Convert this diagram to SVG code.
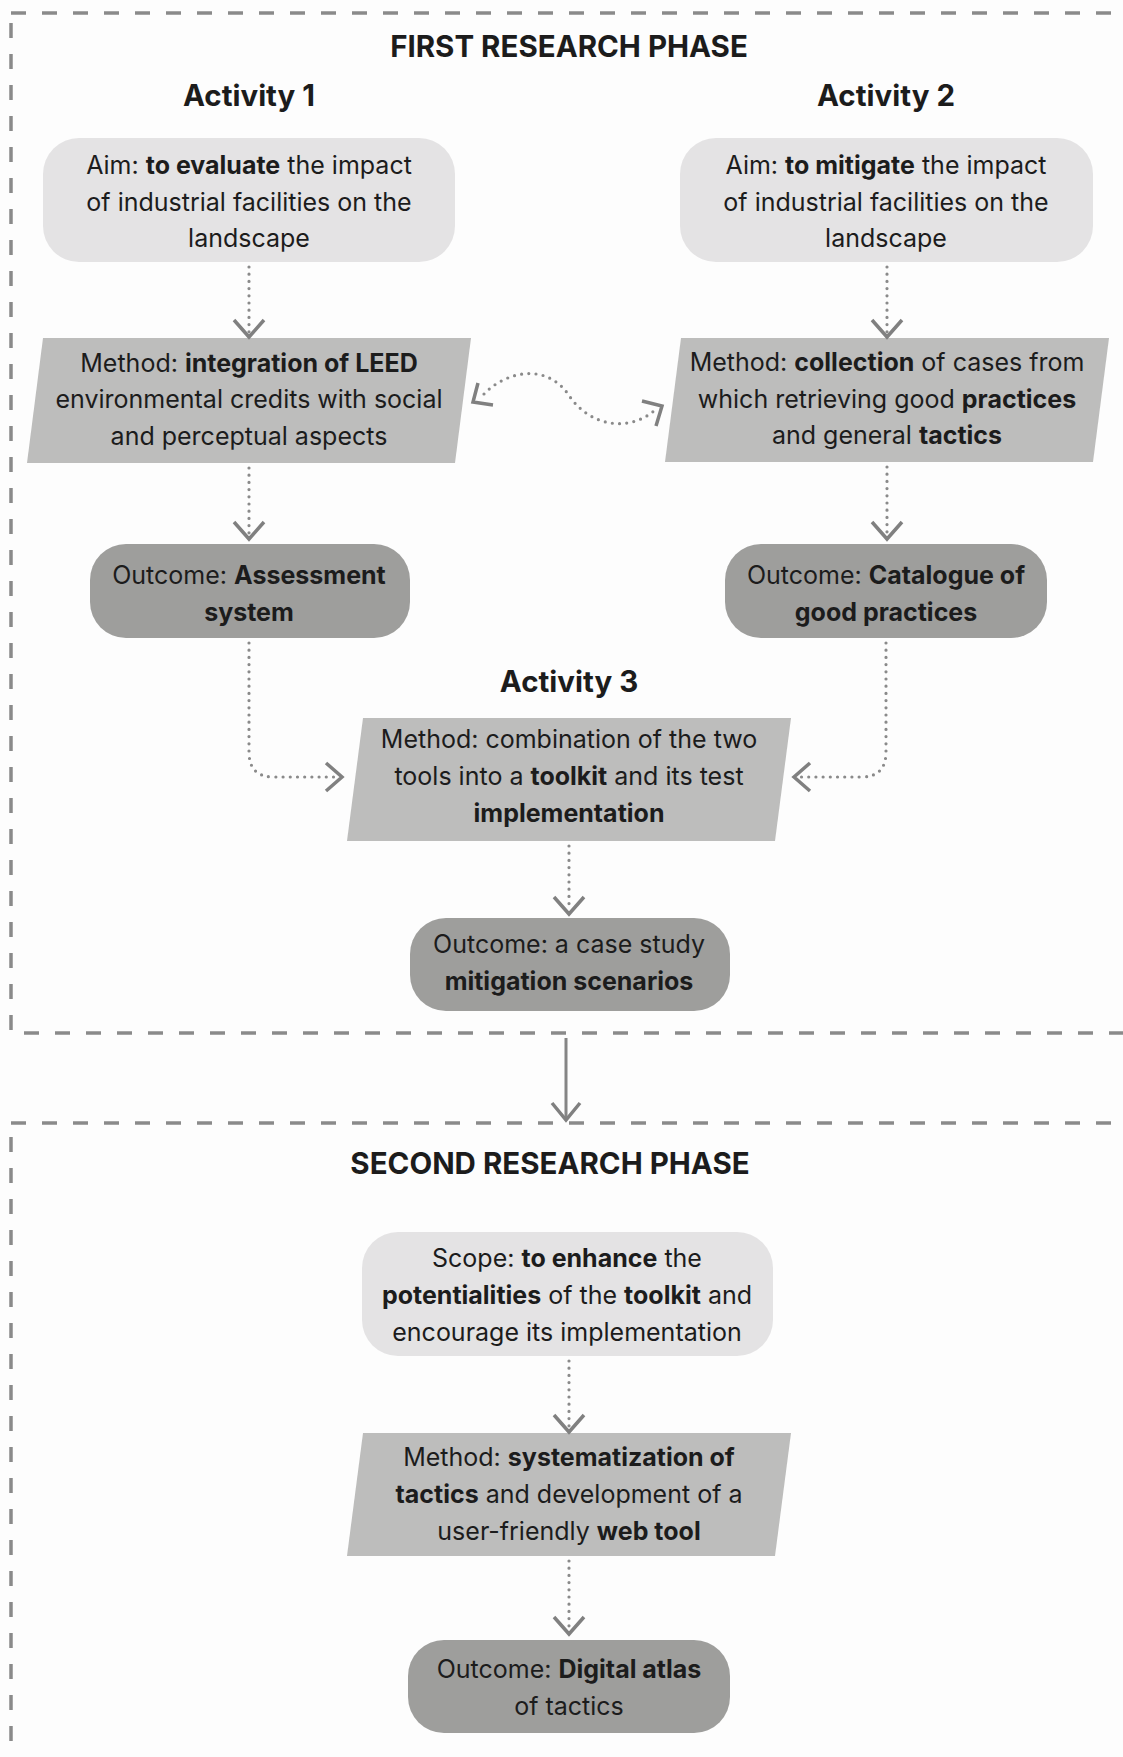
<svg xmlns="http://www.w3.org/2000/svg" width="1123" height="1757" viewBox="0 0 1123 1757">
<style>
  .bg{fill:#fdfdfd}
  .frame{fill:none;stroke:#8a8a8a;stroke-width:3.5;stroke-dasharray:15 16}
  .aim{fill:#e4e3e4}
  .meth{fill:#bdbdbc}
  .out{fill:#9e9e9c}
  text{font-family:Inter,"Noto Sans","DejaVu Sans",sans-serif;fill:#1c1c1c;text-anchor:middle}
  .t{font-size:25px}
  .h{font-size:29.5px;font-weight:700}
  .b{font-weight:700}
  .dot{fill:none;stroke:#8a8a8a;stroke-width:3.2;stroke-linecap:round;stroke-dasharray:0 7.2}
  .chev{fill:none;stroke:#808080;stroke-width:3.5;stroke-linejoin:miter}
  .solid{fill:none;stroke:#858585;stroke-width:3}
</style>
<rect class="bg" x="0" y="0" width="1123" height="1757"/>
<g id="frames">
  <rect class="frame" x="11" y="13" width="1116" height="1020"/>
  <rect class="frame" x="11" y="1123" width="1116" height="650"/>
</g>
<g id="titles">
  <text class="h" x="569" y="57">FIRST RESEARCH PHASE</text>
  <text class="h" x="249" y="106">Activity 1</text>
  <text class="h" x="886" y="106">Activity 2</text>
  <text class="h" x="569" y="692">Activity 3</text>
  <text class="h" x="550" y="1174">SECOND RESEARCH PHASE</text>
</g>
<g id="aim1">
  <rect class="aim" x="43" y="138" width="412" height="124" rx="36"/>
  <text class="t" x="249" y="174">Aim: <tspan class="b">to evaluate</tspan> the impact</text>
  <text class="t" x="249" y="211">of industrial facilities on the</text>
  <text class="t" x="249" y="247">landscape</text>
</g>
<g id="aim2">
  <rect class="aim" x="680" y="138" width="413" height="124" rx="36"/>
  <text class="t" x="886" y="174">Aim: <tspan class="b">to mitigate</tspan> the impact</text>
  <text class="t" x="886" y="211">of industrial facilities on the</text>
  <text class="t" x="886" y="247">landscape</text>
</g>
<g id="method1">
  <polygon class="meth" points="43,338 471,338 455,463 27,463"/>
  <text class="t" x="249" y="372">Method: <tspan class="b">integration of LEED</tspan></text>
  <text class="t" x="249" y="408">environmental credits with social</text>
  <text class="t" x="249" y="445">and perceptual aspects</text>
</g>
<g id="method2">
  <polygon class="meth" points="681,338 1109,338 1093,462 665,462"/>
  <text class="t" x="887" y="371">Method: <tspan class="b">collection</tspan> of cases from</text>
  <text class="t" x="887" y="408">which retrieving good <tspan class="b">practices</tspan></text>
  <text class="t" x="887" y="444">and general <tspan class="b">tactics</tspan></text>
</g>
<g id="outcome1">
  <rect class="out" x="90" y="544" width="320" height="94" rx="36"/>
  <text class="t" x="249" y="584">Outcome: <tspan class="b">Assessment</tspan></text>
  <text class="t b" x="249" y="621">system</text>
</g>
<g id="outcome2">
  <rect class="out" x="725" y="544" width="322" height="94" rx="36"/>
  <text class="t" x="886" y="584">Outcome: <tspan class="b">Catalogue of</tspan></text>
  <text class="t b" x="886" y="621">good practices</text>
</g>
<g id="method3">
  <polygon class="meth" points="363,718 791,718 775,841 347,841"/>
  <text class="t" x="569" y="748">Method: combination of the two</text>
  <text class="t" x="569" y="785">tools into a <tspan class="b">toolkit</tspan> and its test</text>
  <text class="t b" x="569" y="822">implementation</text>
</g>
<g id="outcome3">
  <rect class="out" x="410" y="918" width="320" height="93" rx="36"/>
  <text class="t" x="569" y="953">Outcome: a case study</text>
  <text class="t b" x="569" y="990">mitigation scenarios</text>
</g>
<g id="scope">
  <rect class="aim" x="362" y="1232" width="411" height="124" rx="36"/>
  <text class="t" x="567" y="1267">Scope: <tspan class="b">to enhance</tspan> the</text>
  <text class="t" x="567" y="1304"><tspan class="b">potentialities</tspan> of the <tspan class="b">toolkit</tspan> and</text>
  <text class="t" x="567" y="1341">encourage its implementation</text>
</g>
<g id="method4">
  <polygon class="meth" points="363,1433 791,1433 775,1556 347,1556"/>
  <text class="t" x="569" y="1466">Method: <tspan class="b">systematization of</tspan></text>
  <text class="t" x="569" y="1503"><tspan class="b">tactics</tspan> and development of a</text>
  <text class="t" x="569" y="1540">user-friendly <tspan class="b">web tool</tspan></text>
</g>
<g id="outcome4">
  <rect class="out" x="408" y="1640" width="322" height="93" rx="36"/>
  <text class="t" x="569" y="1678">Outcome: <tspan class="b">Digital atlas</tspan></text>
  <text class="t" x="569" y="1715">of tactics</text>
</g>
<g id="connectors">
  <path class="dot" d="M249,267 L249,333"/>
  <polyline class="chev" points="234,320 249,337 264,320"/>
  <path class="dot" d="M887,267 L887,333"/>
  <polyline class="chev" points="872,320 887,337 902,320"/>
  <path class="dot" d="M249,468 L249,535"/>
  <polyline class="chev" points="234,522 249,539 264,522"/>
  <path class="dot" d="M887,467 L887,535"/>
  <polyline class="chev" points="872,522 887,539 902,522"/>
  <path class="dot" d="M249,643 L249,752 Q249,777 274,777 L338,777"/>
  <polyline class="chev" points="326,763 342,777 326,791"/>
  <path class="dot" d="M886,643 L886,752 Q886,777 861,777 L798,777"/>
  <polyline class="chev" points="810,763 794,777 810,791"/>
  <path class="dot" d="M569,846 L569,910"/>
  <polyline class="chev" points="554,897 569,914 584,897"/>
  <path class="dot" d="M484,394 C505,372 545,362 568,394 C590,428 630,432 655,410"/>
  <polyline class="chev" points="478,383 473,402 493,405"/>
  <polyline class="chev" points="642,401 662,406 656,426"/>
  <path class="solid" d="M566,1038 L566,1119"/>
  <polyline class="chev" points="552,1103 566,1120 580,1103"/>
  <path class="dot" d="M569,1361 L569,1428"/>
  <polyline class="chev" points="554,1415 569,1432 584,1415"/>
  <path class="dot" d="M569,1561 L569,1630"/>
  <polyline class="chev" points="554,1617 569,1634 584,1617"/>
</g>
</svg>
